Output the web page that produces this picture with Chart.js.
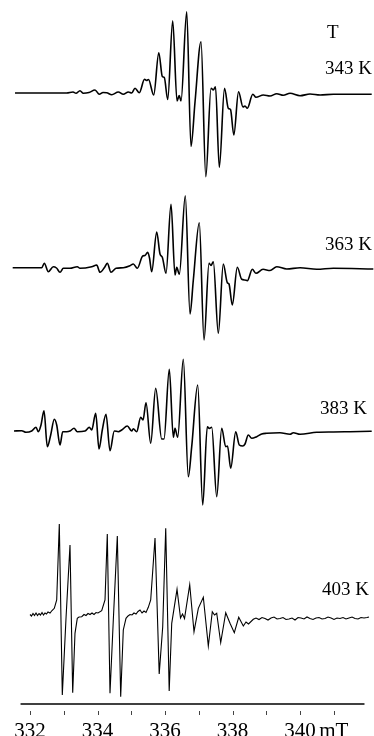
<!DOCTYPE html>
<html>
<head>
<meta charset="utf-8">
<script src="https://cdn.jsdelivr.net/npm/chart.js@4.4.1/dist/chart.umd.min.js"></script>
<style>
  html, body { margin: 0; padding: 0; background: #fff; }
  canvas { display: block; }
</style>
</head>
<body>
<canvas id="epr" width="374" height="736"></canvas>
<script>
// field in mT, signal in arbitrary units
const field343 = [331.556, 333.087, 333.274, 333.363, 333.481, 333.579, 333.748, 333.926, 334.053, 334.163, 334.273, 334.421, 334.616, 334.764, 334.913, 335.013, 335.111, 335.239, 335.393, 335.452, 335.511, 335.665, 335.816, 335.920, 335.979, 336.080, 336.228, 336.356, 336.421, 336.474, 336.643, 336.770, 336.889, 337.067, 337.209, 337.363, 337.431, 337.496, 337.609, 337.763, 337.876, 337.941, 338.039, 338.178, 338.311, 338.370, 338.439, 338.601, 338.696, 338.913, 339.111, 339.310, 339.505, 339.704, 340.000, 340.296, 340.593, 340.987, 342.124];
const signal343 = [0, 0, 1, -0.3, 2.3, -0.3, 0.5, 3, -1.3, 0.5, 0.3, -1.7, 1, -1.3, 1, 0, 4.7, 0.3, 13.7, 12.5, 13.5, -2, 40.3, 16.5, 15.5, -6.5, 72.3, -8, -2.5, -8, 81.3, -53.5, -9, 51.3, -83.7, 4.7, 3, 6.3, -74.3, 4.7, -15.3, -16.5, -42, 1.3, -14, -13, -15.3, -1.3, -4.3, -2, -3, -0.7, -2.3, -0.3, -2.7, -1, -2, -1.3, -1.3];

const field363 = [331.487, 332.347, 332.424, 332.542, 332.690, 332.785, 332.889, 332.987, 333.185, 333.401, 333.481, 333.828, 333.976, 334.074, 334.222, 334.290, 334.400, 334.548, 334.764, 334.963, 335.061, 335.179, 335.339, 335.407, 335.487, 335.541, 335.606, 335.754, 335.852, 335.920, 336.030, 336.178, 336.296, 336.347, 336.424, 336.601, 336.741, 336.839, 337.016, 337.156, 337.304, 337.363, 337.431, 337.579, 337.727, 337.846, 337.896, 337.994, 338.142, 338.273, 338.370, 338.439, 338.587, 338.696, 338.904, 339.111, 339.310, 339.606, 340.000, 340.495, 340.987, 342.172];
const signal363 = [0.3, 0.3, 4.7, -3.7, 1.3, 0, -4.3, -0.3, -0.3, 1.3, -0.3, 1.3, 3, -4.3, 1.3, 4.7, -4.3, -0.3, 0.3, 2.3, 4, -0.3, 12, 12.5, 15.7, 10, -3.7, 36, 14, 10.7, -5.3, 63.7, -7, 0.7, -6.3, 72.3, -46, -12, 45.3, -72, 4.7, 2.5, 6.3, -65.3, 4, -14.7, -16, -37, 0.7, -11.3, -12, -12.7, -1.3, -5.3, -1.3, -2.5, 1.3, -1, 0.3, -1.3, -0.3, -1];

const field383 = [331.526, 331.754, 331.881, 332.050, 332.178, 332.246, 332.326, 332.415, 332.513, 332.613, 332.720, 332.791, 332.889, 332.969, 333.087, 333.185, 333.304, 333.401, 333.630, 333.757, 333.828, 333.947, 334.044, 334.142, 334.252, 334.370, 334.498, 334.616, 334.717, 334.883, 335.013, 335.061, 335.161, 335.280, 335.348, 335.437, 335.576, 335.724, 335.902, 335.970, 336.127, 336.246, 336.296, 336.376, 336.542, 336.690, 336.791, 336.969, 337.117, 337.253, 337.313, 337.384, 337.532, 337.680, 337.799, 337.852, 337.947, 338.095, 338.201, 338.302, 338.370, 338.468, 338.569, 338.717, 338.865, 339.013, 339.407, 339.704, 339.802, 340.000, 340.495, 340.987, 341.481, 342.124];
const signal383 = [0, 0.3, -1.3, 0, 3.7, -0.7, 6, 20.3, -15.7, -4, 11.7, 6, -14, -0.7, -0.7, 0, 2.7, -0.7, 0, 3.7, 1, 17.7, -18, 1, 16.7, -19.7, 0, -0.7, 1, 5, 0, 2.3, -0.7, 13.7, 11, 28.3, -12.3, 42.7, -8, -8, 61.7, -6.3, 2.7, -6.3, 71.7, -45.7, -15.7, 46, -74, 4.3, 2.5, 3.7, -65.7, 2.7, -15.7, -15, -37.3, -0.7, -14, -15, -13, -4, -7.3, -5.7, -3, -2.3, -1.7, -3.3, -1.7, -3.3, -1.3, -1, -0.7, -0.3];

const field403 = [332.000, 332.044, 332.089, 332.133, 332.178, 332.222, 332.267, 332.311, 332.356, 332.400, 332.444, 332.489, 332.533, 332.593, 332.652, 332.720, 332.791, 332.868, 332.957, 333.067, 333.185, 333.265, 333.333, 333.401, 333.452, 333.532, 333.600, 333.659, 333.719, 333.778, 333.837, 333.896, 333.956, 334.015, 334.124, 334.222, 334.290, 334.370, 334.468, 334.587, 334.687, 334.764, 334.844, 334.904, 334.963, 335.022, 335.081, 335.141, 335.200, 335.259, 335.319, 335.378, 335.437, 335.505, 335.576, 335.704, 335.828, 335.932, 336.021, 336.124, 336.199, 336.356, 336.459, 336.519, 336.578, 336.732, 336.859, 336.987, 337.135, 337.283, 337.401, 337.467, 337.532, 337.650, 337.799, 337.926, 338.053, 338.184, 338.320, 338.400, 338.474, 338.616, 338.696, 338.785, 338.874, 338.963, 339.052, 339.141, 339.230, 339.319, 339.407, 339.496, 339.585, 339.674, 339.763, 339.852, 339.941, 340.030, 340.119, 340.207, 340.296, 340.385, 340.474, 340.563, 340.652, 340.741, 340.830, 340.919, 341.007, 341.096, 341.185, 341.274, 341.363, 341.452, 341.541, 341.630, 341.719, 341.807, 341.896, 341.985, 342.044];
const signal403 = [1.5, 0, 2.5, 0.5, 3, 0.5, 2.5, 1, 3.5, 1, 3, 2, 4, 3, 5.5, 7.7, 16, 92, -79, -2, 71, -76.7, -17.3, -2.3, -1, -0.7, 1.5, 0.5, 2.5, 1.5, 3, 1.5, 3.5, 3, 5.3, 16, 82, -77.3, -4, 80, -80.7, -14, -2.3, 0, 1.5, 1, 3, 2, 4.5, 6, 3, 5, 3.5, 8.7, 16, 78, -58, -10.7, 87.7, -75, -7.3, 26.7, -2, 2, -2.5, 31.3, -15.7, 7.7, 18.7, -30, 4.3, 1, 2.7, -26.7, 3.3, -7.3, -16.7, -1.3, -10, -6, -8, -3.3, -2, -3.5, -1.5, -2.5, -4, -2, -1, -3, -2.5, -1.5, -3.5, -3, -2, -4, -1.5, -2, -3, -1, -2.5, -3.5, -2, -1.5, -3, -2.5, -1, -2, -3.5, -2, -2.5, -1.5, -3, -2, -1, -2.5, -3, -1.5, -2, -1.5, -1];

const temps = ['343 K', '363 K', '383 K', '403 K'];
const tickValues = [332, 333, 334, 335, 336, 337, 338, 339, 340, 341];
const tickLabels = ['332', '', '334', '', '336', '', '338', '', '340', 'mT'];
const axisRange = [331.72, 341.91];

// vertical stacking of the traces (plot units = px)
const offsets = [611, 436, 273, 88];
const fields = [field343, field363, field383, field403];
const signals = [signal343, signal363, signal383, signal403];

function trace(i) {
  return fields[i].map((f, k) => ({ x: f, y: offsets[i] + signals[i][k] }));
}

const decor = {
  id: 'decor',
  afterDatasetsDraw(chart) {
    const ctx = chart.ctx;
    const x = chart.scales.x, y = chart.scales.y;
    const y0 = y.getPixelForValue(0);
    ctx.save();
    ctx.strokeStyle = '#000';
    ctx.lineWidth = 1.6;
    ctx.beginPath();
    ctx.moveTo(x.getPixelForValue(axisRange[0]), y0);
    ctx.lineTo(x.getPixelForValue(axisRange[1]), y0);
    ctx.stroke();

    ctx.strokeStyle = '#444';
    ctx.lineWidth = 1;
    tickValues.forEach(v => {
      const px = Math.round(x.getPixelForValue(v)) + 0.5;
      ctx.beginPath();
      ctx.moveTo(px, y0 + 7);
      ctx.lineTo(px, y0 + 11);
      ctx.stroke();
    });

    ctx.fillStyle = '#000';
    ctx.font = '21px "Liberation Serif"';
    ctx.textAlign = 'center';
    ctx.textBaseline = 'alphabetic';
    tickLabels.forEach((t, i) => {
      if (t) ctx.fillText(t, x.getPixelForValue(tickValues[i]), 737);
    });

    ctx.font = '19px "Liberation Serif"';
    ctx.textAlign = 'left';
    ctx.fillText('T', 327, 38);
    const labelPos = [[325, 74], [325, 249.5], [320, 413.5], [322, 595]];
    temps.forEach((t, i) => ctx.fillText(t, labelPos[i][0], labelPos[i][1]));
    ctx.restore();
  }
};

new Chart(document.getElementById('epr'), {
  type: 'line',
  data: {
    datasets: [0, 1, 2, 3].map(i => ({
      label: temps[i],
      data: trace(i),
      borderColor: '#000',
      borderWidth: i < 3 ? 1.6 : 1.1,
      pointRadius: 0,
      fill: false,
      cubicInterpolationMode: i < 3 ? 'monotone' : 'default',
      tension: 0
    }))
  },
  options: {
    responsive: false,
    devicePixelRatio: 1,
    animation: false,
    layout: { padding: 0 },
    plugins: { legend: { display: false }, tooltip: { enabled: false } },
    scales: {
      x: { type: 'linear', min: 331.111, max: 342.192, display: false },
      y: { type: 'linear', min: -32, max: 704, display: false }
    }
  },
  plugins: [decor]
});
</script>
</body>
</html>
